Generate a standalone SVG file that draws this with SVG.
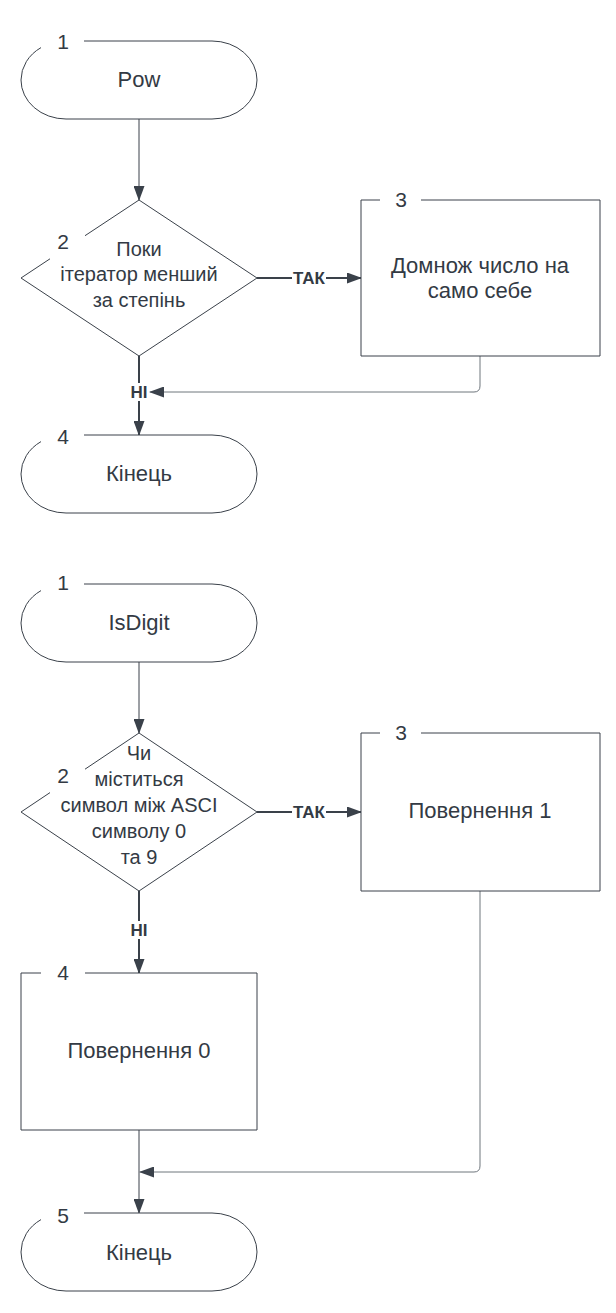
<svg xmlns="http://www.w3.org/2000/svg" width="616" height="1313" viewBox="0 0 616 1313">
<style>
.shape{fill:#ffffff;stroke:#3a414a;stroke-width:1}
.t{font-family:"Liberation Sans",Arial,sans-serif;font-size:22px;fill:#333a44;text-anchor:middle}
.d{font-family:"Liberation Sans",Arial,sans-serif;font-size:20px;fill:#333a44;text-anchor:middle}
.n{font-family:"Liberation Sans",Arial,sans-serif;font-size:21px;fill:#333a44;text-anchor:middle}
.lbl{font-family:"Liberation Sans",Arial,sans-serif;font-size:17px;font-weight:bold;fill:#333a44;text-anchor:middle}
.c{fill:none;stroke:#3a414a;stroke-width:1}
.cb{fill:none;stroke:#3a414a;stroke-width:2}
.cg{fill:none;stroke:#6f767d;stroke-width:1}
</style>
<defs>
<marker id="ah" markerUnits="userSpaceOnUse" markerWidth="15" markerHeight="11" refX="14" refY="5.5" orient="auto">
<path d="M0,0 L15,5.5 L0,11 z" fill="#3a414a"/>
</marker>
</defs>
<rect width="616" height="1313" fill="#ffffff"/>

<g id="connectors">
<path class="c" d="M139,119 V200" marker-end="url(#ah)"/>
<path class="cb" d="M257,278 H292"/>
<path class="cb" d="M326,278 H361" marker-end="url(#ah)"/>
<text class="lbl" x="309" y="284">ТАК</text>
<path class="cb" d="M139,356 V383"/>
<path class="cb" d="M139,401 V435" marker-end="url(#ah)"/>
<text class="lbl" x="139" y="398">НІ</text>
<path class="cg" d="M480,356 V386 Q480,392 474,392 H150" marker-end="url(#ah)"/>

<path class="c" d="M139,662 V733" marker-end="url(#ah)"/>
<path class="cb" d="M257,812 H292"/>
<path class="cb" d="M326,812 H361" marker-end="url(#ah)"/>
<text class="lbl" x="309" y="818">ТАК</text>
<path class="cb" d="M139,891 V921"/>
<path class="cb" d="M139,939 V973" marker-end="url(#ah)"/>
<text class="lbl" x="139" y="936">НІ</text>
<path class="c" d="M139,1130 V1213" marker-end="url(#ah)"/>
<path class="cg" d="M480,891 V1166 Q480,1172 474,1172 H140" marker-end="url(#ah)"/>
</g>

<g id="pow-1">
<path class="shape" d="M84,41 H212 A45,39 0 0 1 257,80 A45,39 0 0 1 212,119 H66 A45,39 0 0 1 21,80 A45,39 0 0 1 41,47.6"/>
<text class="n" x="63" y="49">1</text>
<text class="t" x="139" y="87">Pow</text>
</g>

<g id="pow-2">
<path class="shape" d="M85,235.7 L139,200 L257,278 L139,356 L21,278 L50,258.8"/>
<text class="n" x="63" y="249">2</text>
<text class="d" x="139" y="256">Поки</text>
<text class="d" x="139" y="281">ітератор менший</text>
<text class="d" x="139" y="307">за степінь</text>
</g>

<g id="pow-3">
<path class="shape" d="M421,200 H600 V356 H361 V200 H380"/>
<text class="n" x="401" y="207">3</text>
<text class="t" x="480" y="273">Домнож число на</text>
<text class="t" x="480" y="298">само себе</text>
</g>

<g id="pow-4">
<path class="shape" d="M84,435 H212 A45,39 0 0 1 257,474 A45,39 0 0 1 212,513 H66 A45,39 0 0 1 21,474 A45,39 0 0 1 41,441.6"/>
<text class="n" x="63" y="444">4</text>
<text class="t" x="139" y="481">Кінець</text>
</g>

<g id="isdigit-1">
<path class="shape" d="M84,584 H212 A45,39 0 0 1 257,623 A45,39 0 0 1 212,662 H66 A45,39 0 0 1 21,623 A45,39 0 0 1 41,590.6"/>
<text class="n" x="63" y="590">1</text>
<text class="t" x="139" y="630">IsDigit</text>
</g>

<g id="isdigit-2">
<path class="shape" d="M85,769.2 L139,733 L257,812 L139,891 L21,812 L50,792.6"/>
<text class="n" x="63" y="783">2</text>
<text class="d" x="139" y="760">Чи</text>
<text class="d" x="139" y="786">міститься</text>
<text class="d" x="139" y="812">символ між ASCI</text>
<text class="d" x="139" y="838">символу 0</text>
<text class="d" x="139" y="864">та 9</text>
</g>

<g id="isdigit-3">
<path class="shape" d="M421,733 H600 V891 H361 V733 H380"/>
<text class="n" x="401" y="740">3</text>
<text class="t" x="480" y="818">Повернення 1</text>
</g>

<g id="isdigit-4">
<path class="shape" d="M85,973 H257 V1130 H21 V973 H41"/>
<text class="n" x="63" y="980">4</text>
<text class="t" x="139" y="1058">Повернення 0</text>
</g>

<g id="isdigit-5">
<path class="shape" d="M84,1213 H212 A45,39 0 0 1 257,1252 A45,39 0 0 1 212,1291 H66 A45,39 0 0 1 21,1252 A45,39 0 0 1 41,1219.6"/>
<text class="n" x="63" y="1223">5</text>
<text class="t" x="139" y="1260">Кінець</text>
</g>
</svg>
